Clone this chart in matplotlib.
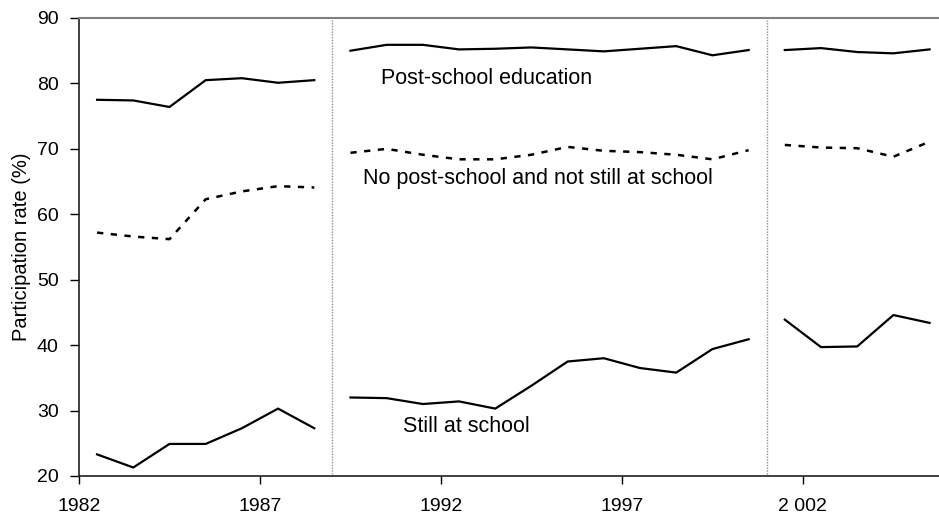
import numpy as np
import matplotlib.pyplot as plt

plt.rcParams['font.family'] = ['Liberation Sans', 'DejaVu Sans']

# three survey series, each split into three periods
years1 = [1982.5, 1983.5, 1984.5, 1985.5, 1986.5, 1987.5, 1988.5]
years2 = [1989.5, 1990.5, 1991.5, 1992.5, 1993.5, 1994.5, 1995.5, 1996.5,
          1997.5, 1998.5, 1999.5, 2000.5]
years3 = [2001.5, 2002.5, 2003.5, 2004.5, 2005.5]

post1 = [77.5, 77.4, 76.4, 80.5, 80.8, 80.1, 80.5]
post2 = [85.0, 85.9, 85.9, 85.2, 85.3, 85.5, 85.2, 84.9, 85.3, 85.7, 84.3, 85.1]
post3 = [85.1, 85.4, 84.8, 84.6, 85.2]

nopost1 = [57.2, 56.6, 56.2, 62.3, 63.5, 64.3, 64.1]
nopost2 = [69.4, 70.0, 69.1, 68.4, 68.4, 69.1, 70.3, 69.7, 69.5, 69.1, 68.4, 69.8]
nopost3 = [70.6, 70.2, 70.1, 68.8, 71.1]

still1 = [23.3, 21.3, 24.9, 24.9, 27.3, 30.3, 27.3]
still2 = [32.0, 31.9, 31.0, 31.4, 30.3, 33.8, 37.5, 38.0, 36.5, 35.8, 39.4, 40.9]
still3 = [43.9, 39.7, 39.8, 44.6, 43.4]

breaks = [1989, 2001]
xticks = [1982, 1987, 1992, 1997, 2002]
xticklabels = ['1982', '1987', '1992', '1997', '2 002']
yticks = [20, 30, 40, 50, 60, 70, 80, 90]

fig = plt.figure(figsize=(9.39, 5.19), dpi=100)
ax = fig.add_axes([79/939, 43/519, 1 - 79/939, 458/519])

dots = (0, (2.5, 3))
for xs, p, n, s in [(years1, post1, nopost1, still1),
                    (years2, post2, nopost2, still2),
                    (years3, post3, nopost3, still3)]:
    ax.plot(xs, p, color='black', lw=1.6)
    ax.plot(xs, n, color='black', lw=1.8, linestyle=dots)
    ax.plot(xs, s, color='black', lw=1.6)

for b in breaks:
    ax.axvline(b, ymin=0.005, ymax=0.995, color='#909090', lw=1.0, linestyle=(0, (1, 1)))

# labels inside the chart
ax.text(1990.34, 80.7, 'Post-school education', fontsize=15.5, va='center', ha='left')
ax.text(1989.84, 65.4, 'No post-school and not still at school', fontsize=15.5, va='center', ha='left')
ax.text(1990.94, 27.6, 'Still at school', fontsize=15.5, va='center', ha='left')

ax.set_xlim(1982, 2005.76)
ax.set_ylim(20, 90)
ax.set_xticks(xticks)
ax.set_xticklabels(xticklabels)
ax.set_yticks(yticks)
ax.tick_params(axis='x', length=6, width=1, pad=9.5, labelsize=14, direction='out')
ax.tick_params(axis='y', length=6.5, width=1, pad=8, labelsize=14, direction='out')
ax.set_ylabel('Participation rate (%)', fontsize=14.5, labelpad=4)

ax.spines['right'].set_visible(False)
ax.spines['top'].set_color('#808080')
ax.spines['top'].set_linewidth(1.5)
ax.spines['left'].set_color('#202020')
ax.spines['bottom'].set_color('#202020')
ax.spines['left'].set_linewidth(1.2)
ax.spines['bottom'].set_linewidth(1.2)

fig.savefig('out.png', dpi=100)
